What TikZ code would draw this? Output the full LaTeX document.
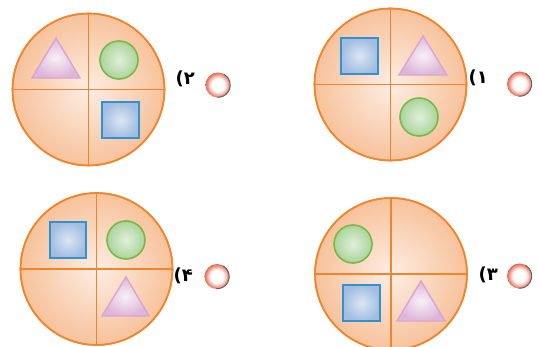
\documentclass[tikz,border=0pt]{standalone}
\usepackage{fontspec}
\usetikzlibrary{calc}
\newfontfamily\digitfont{DejaVu Sans Bold}
\definecolor{pieedge}{HTML}{F0852C}
\definecolor{piein}{HTML}{FDEDE3}
\definecolor{pieout}{HTML}{F7C29B}
\definecolor{sqedge}{HTML}{2F93CD}
\definecolor{sqin}{HTML}{DAE7F3}
\definecolor{sqout}{HTML}{A3BDE1}
\definecolor{triedge}{HTML}{D9A5D2}
\definecolor{triin}{HTML}{F8F0F7}
\definecolor{triout}{HTML}{DDB6D9}
\definecolor{balledge}{HTML}{7CB944}
\definecolor{ballin}{HTML}{E0F0D9}
\definecolor{ballout}{HTML}{ABD49C}
\definecolor{radioedge}{HTML}{E8684E}
\definecolor{radioshadow}{HTML}{606060}
\pgfdeclareradialshading{radiosh}{\pgfpoint{0bp}{0bp}}{color(0bp)=(white); color(13bp)=(white); color(25bp)=(radioedge); color(50bp)=(radioedge)}
\tikzset{
  pie/.style={draw=pieedge, line width=1.6pt, inner color=piein, outer color=pieout},
  cross/.style={draw=pieedge, line width=1.6pt},
  sq/.style={draw=sqedge, line width=1.6pt, inner color=sqin, outer color=sqout},
  tri/.style={draw=triedge, line width=1.4pt, inner color=triin, outer color=triout, line join=miter},
  ball/.style={draw=balledge, line width=1.6pt, inner color=ballin, outer color=ballout},
  radio/.style={circle, minimum size=25pt, inner sep=0pt, shading=radiosh},
  rshadow/.style={draw=radioshadow, line width=0.9pt},
  lab/.style={anchor=base east, inner sep=0pt, font=\digitfont\fontsize{18}{18}\selectfont}
}
\newcommand\piepanel[2]{%
  \path[pie] (#1,#2) circle (76pt);
  \draw[cross] (#1-76,#2) -- (#1+76,#2) (#1,#2-76) -- (#1,#2+76);
  \draw[cross] (#1,#2) circle (76pt);
}
\newcommand\radiobtn[3]{%
  \node[radio] (#3) at (#1,#2) {};
  \draw[rshadow] (#3.center) ++(60:12.3pt) arc[start angle=60, end angle=-95, radius=12.3pt];
}
\begin{document}
\begin{tikzpicture}[x=1pt,y=-1pt]
\useasboundingbox (0,0) rectangle (539,347);
\clip (0,0) rectangle (539,347);
% option 2 (top left)
\piepanel{88.5}{89.5}
\path[tri] (32,78) -- (56,38) -- (80,78) -- cycle;
\path[ball] (119,60) circle (19pt);
\path[sq] (102,102) rectangle (139,138);
\radiobtn{218}{85}{r2}
\node[lab] (t2) at (195,85) {(۲};
% option 1 (top right)
\piepanel{390.5}{84.5}
\path[sq] (341,38) rectangle (378,74);
\path[tri] (399,75) -- (423,36) -- (447,75) -- cycle;
\path[ball] (419,117) circle (19pt);
\radiobtn{519.5}{84}{r1}
\node[lab] (t1) at (488,84) {(۱};
% option 4 (bottom left)
\piepanel{96.5}{269}
\path[sq] (50,222) rectangle (86,258);
\path[ball] (126,240) circle (19pt);
\path[tri] (102,316) -- (126,277) -- (149,316) -- cycle;
\radiobtn{217}{276.5}{r4}
\node[lab] (t4) at (193,282) {(۴};
% option 3 (bottom right)
\piepanel{391}{274}
\path[ball] (353,244) circle (19pt);
\path[sq] (343,285) rectangle (380,321);
\path[tri] (397,321) -- (421,281) -- (445,321) -- cycle;
\radiobtn{519.5}{276}{r3}
\node[lab] (t3) at (498,281) {(۳};
\end{tikzpicture}
\end{document}
